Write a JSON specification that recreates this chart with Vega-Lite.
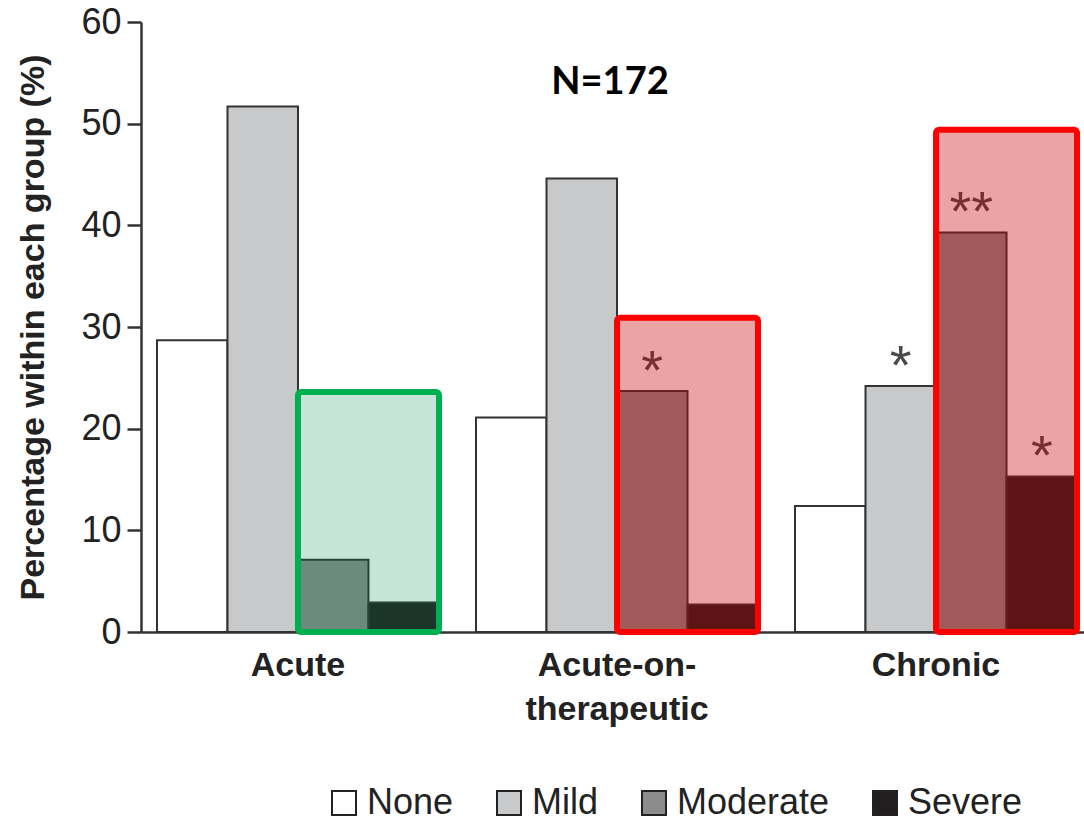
{
  "$schema": "https://vega.github.io/schema/vega-lite/v6.json",
  "autosize": {"type": "none"},
  "padding": {"left": 141, "top": 22, "right": 0, "bottom": 185},
  "width": 943,
  "height": 610,
  "background": "white",
  "config": {
    "view": {"stroke": null},
    "font": "Liberation Sans"
  },
  "datasets": {
    "bars": [
      {"group": "Acute", "severity": "None", "value": 28.7, "sig": ""},
      {"group": "Acute", "severity": "Mild", "value": 51.7, "sig": ""},
      {"group": "Acute", "severity": "Moderate", "value": 7.1, "sig": ""},
      {"group": "Acute", "severity": "Severe", "value": 2.9, "sig": ""},
      {"group": "Acute-on-therapeutic", "severity": "None", "value": 21.1, "sig": ""},
      {"group": "Acute-on-therapeutic", "severity": "Mild", "value": 44.6, "sig": ""},
      {"group": "Acute-on-therapeutic", "severity": "Moderate", "value": 23.7, "sig": "*"},
      {"group": "Acute-on-therapeutic", "severity": "Severe", "value": 2.7, "sig": ""},
      {"group": "Chronic", "severity": "None", "value": 12.4, "sig": ""},
      {"group": "Chronic", "severity": "Mild", "value": 24.2, "sig": "*"},
      {"group": "Chronic", "severity": "Moderate", "value": 39.3, "sig": "**"},
      {"group": "Chronic", "severity": "Severe", "value": 15.3, "sig": "*"}
    ],
    "boxes": [
      {"group": "Acute", "half": "High", "top": 23.6, "kind": "green"},
      {"group": "Acute-on-therapeutic", "half": "High", "top": 30.9, "kind": "red"},
      {"group": "Chronic", "half": "High", "top": 49.4, "kind": "red"}
    ]
  },
  "encoding": {
    "x": {
      "field": "group",
      "type": "nominal",
      "sort": ["Acute", "Acute-on-therapeutic", "Chronic"],
      "scale": {"type": "band", "domain": ["Acute", "Acute-on-therapeutic", "Chronic"], "paddingInner": 0.116, "paddingOuter": 0.036, "align": 0.696},
      "axis": {
        "title": null,
        "labelAngle": 0,
        "labelFont": "Liberation Sans",
        "labelFontSize": 34,
        "labelFontWeight": "bold",
        "labelColor": "#222222",
        "labelPadding": 16,
        "labelLineHeight": 44,
        "labelBaseline": "top",
        "labelLimit": 600,
        "labelExpr": "datum.label == 'Acute-on-therapeutic' ? ['Acute-on-', 'therapeutic'] : datum.label",
        "ticks": false,
        "domainColor": "#333333",
        "domainWidth": 2.5
      }
    }
  },
  "layer": [
    {
      "data": {"name": "bars"},
      "mark": {"type": "bar", "stroke": "#333333", "strokeWidth": 2},
      "encoding": {
        "xOffset": {"field": "severity", "type": "nominal", "scale": {"type": "band", "domain": ["None", "Mild", "Moderate", "Severe"], "paddingInner": 0, "paddingOuter": 0}},
        "y": {
          "field": "value",
          "type": "quantitative",
          "scale": {"domain": [0, 60], "nice": false},
          "axis": {
            "title": "Percentage within each group (%)",
            "titleFont": "Liberation Sans",
            "titleFontSize": 34,
            "titleFontWeight": "bold",
            "titleColor": "#222222",
            "titleX": -108,
            "titleY": 305,
            "titleAngle": -90,
            "titleAlign": "center",
            "titleBaseline": "middle",
            "titleLimit": 800,
            "values": [0, 10, 20, 30, 40, 50, 60],
            "labelFontSize": 36,
            "labelColor": "#222222",
            "labelPadding": 6,
            "tickSize": 14,
            "tickWidth": 2.5,
            "tickColor": "#333333",
            "domainColor": "#333333",
            "domainWidth": 2.5,
            "grid": false
          }
        },
        "fill": {
          "field": "severity",
          "type": "nominal",
          "scale": {"domain": ["None", "Mild", "Moderate", "Severe"], "range": ["#ffffff", "#c8c9cb", "#8c8c8c", "#231f20"]},
          "legend": {
            "title": null,
            "orient": "none",
            "legendX": 185,
            "legendY": 763,
            "direction": "horizontal",
            "columns": 4,
            "columnPadding": 37,
            "padding": 0,
            "symbolType": "square",
            "symbolSize": 576,
            "symbolStrokeColor": "#222222",
            "symbolStrokeWidth": 2,
            "labelFontSize": 36,
            "labelColor": "#222222",
            "labelOffset": 5,
            "labelLimit": 400
          }
        }
      }
    },
    {
      "data": {"name": "bars"},
      "transform": [{"filter": "datum.sig != ''"}],
      "mark": {"type": "text", "fontSize": 56, "color": "#4a4a4a", "baseline": "alphabetic", "align": "center", "dy": -2},
      "encoding": {
        "xOffset": {"field": "severity", "type": "nominal", "scale": {"type": "band", "domain": ["None", "Mild", "Moderate", "Severe"], "paddingInner": 0, "paddingOuter": 0}},
        "y": {"field": "value", "type": "quantitative"},
        "text": {"field": "sig"}
      }
    },
    {
      "data": {"name": "boxes"},
      "transform": [{"filter": "datum.kind == 'green'"}],
      "mark": {"type": "bar", "fill": "#008a45", "fillOpacity": 0.22, "stroke": "#00b050", "strokeWidth": 6, "strokeOpacity": 1, "cornerRadius": 3},
      "encoding": {
        "xOffset": {"field": "half", "type": "nominal", "scale": {"type": "band", "domain": ["Low", "High"], "paddingInner": 0, "paddingOuter": 0}},
        "y": {"field": "top", "type": "quantitative"},
        "y2": {"datum": 0}
      }
    },
    {
      "data": {"name": "boxes"},
      "transform": [{"filter": "datum.kind == 'red'"}],
      "mark": {"type": "bar", "fill": "#c80000", "fillOpacity": 0.36, "stroke": "#ff0000", "strokeWidth": 6, "strokeOpacity": 1, "cornerRadius": 3},
      "encoding": {
        "xOffset": {"field": "half", "type": "nominal", "scale": {"type": "band", "domain": ["Low", "High"], "paddingInner": 0, "paddingOuter": 0}},
        "y": {"field": "top", "type": "quantitative"},
        "y2": {"datum": 0}
      }
    },
    {
      "data": {"values": [{"label": "N=172"}]},
      "mark": {"type": "text", "font": "Lato", "fontSize": 38, "fontWeight": "bold", "color": "#000000", "baseline": "middle", "dx": -7},
      "encoding": {
        "x": {"datum": "Acute-on-therapeutic"},
        "y": {"datum": 54},
        "text": {"field": "label"}
      }
    }
  ],
  "resolve": {"scale": {"xOffset": "independent"}}
}
